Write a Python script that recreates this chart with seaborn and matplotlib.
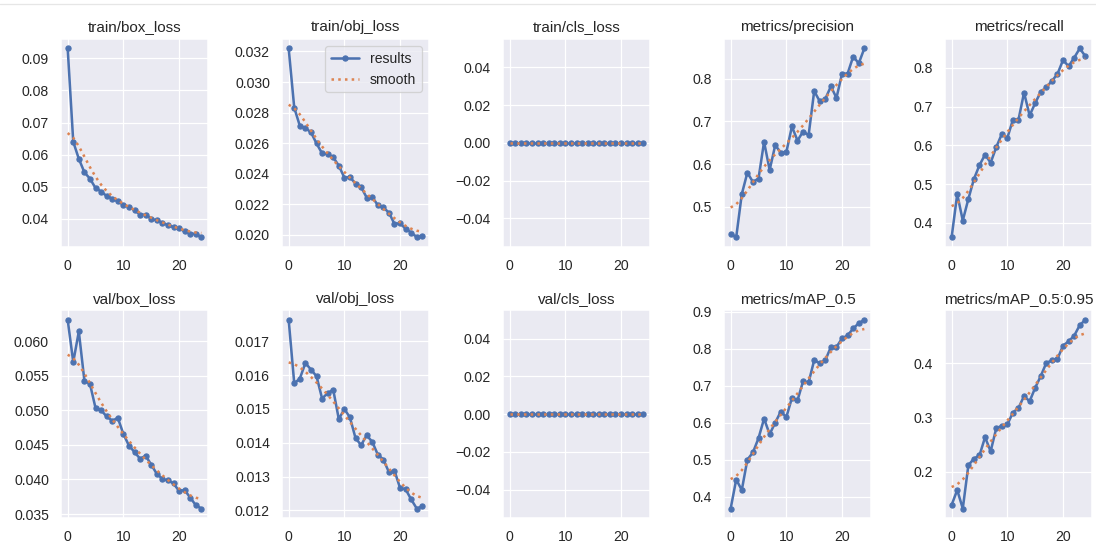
import numpy as np
import pandas as pd
import seaborn as sns
import matplotlib
matplotlib.use("Agg")
import matplotlib.pyplot as plt

epochs = list(range(25))

titles = ["train/box_loss", "train/obj_loss", "train/cls_loss", "metrics/precision", "metrics/recall",
          "val/box_loss", "val/obj_loss", "val/cls_loss", "metrics/mAP_0.5", "metrics/mAP_0.5:0.95"]

train_box_loss = [0.0931, 0.0640, 0.0587, 0.0545, 0.0525, 0.0496, 0.0485, 0.0471, 0.0463, 0.0454,
                  0.0444, 0.0437, 0.0427, 0.0413, 0.0413, 0.0400, 0.0395, 0.0388, 0.0380, 0.0374,
                  0.0370, 0.0361, 0.0354, 0.0353, 0.0343]
train_obj_loss = [0.0322, 0.02832, 0.02714, 0.02699, 0.02671, 0.02598, 0.02533, 0.02529, 0.02507, 0.02453,
                  0.02374, 0.02378, 0.02335, 0.02313, 0.02244, 0.02248, 0.02194, 0.02179, 0.02145, 0.02071,
                  0.02076, 0.02039, 0.02015, 0.01985, 0.01990]
train_cls_loss = [0.0] * 25
precision = [0.4364, 0.4287, 0.5295, 0.5798, 0.558, 0.566, 0.652, 0.586, 0.644, 0.627,
             0.628, 0.688, 0.655, 0.676, 0.668, 0.771, 0.747, 0.753, 0.782, 0.755,
             0.812, 0.812, 0.852, 0.836, 0.871]
recall = [0.3632, 0.474, 0.406, 0.4615, 0.513, 0.549, 0.576, 0.555, 0.595, 0.629,
          0.619, 0.666, 0.666, 0.736, 0.677, 0.709, 0.738, 0.750, 0.766, 0.784,
          0.820, 0.804, 0.826, 0.850, 0.830]
val_box_loss = [0.06305, 0.05696, 0.06138, 0.05428, 0.0538, 0.05033, 0.0500, 0.0491, 0.04848, 0.0489,
                0.04657, 0.0449, 0.04395, 0.0430, 0.04343, 0.04214, 0.04081, 0.0401, 0.03986, 0.03943,
                0.03834, 0.03848, 0.03738, 0.03629, 0.0358]
val_obj_loss = [0.01764, 0.01576, 0.0159, 0.01636, 0.01617, 0.01597, 0.01531, 0.01547, 0.01557, 0.0147,
                0.0150, 0.01475, 0.01414, 0.01393, 0.01422, 0.01403, 0.01365, 0.0135, 0.01313, 0.01317,
                0.01266, 0.01262, 0.01232, 0.01205, 0.01212]
val_cls_loss = [0.0] * 25
map_05 = [0.3679, 0.4464, 0.4179, 0.500, 0.5196, 0.558, 0.6107, 0.5688, 0.600, 0.630,
          0.615, 0.667, 0.660, 0.7116, 0.7089, 0.7688, 0.7607, 0.7688, 0.8045, 0.8045,
          0.8277, 0.8357, 0.8545, 0.8687, 0.8777]
map_05_095 = [0.1392, 0.1666, 0.1325, 0.2122, 0.2243, 0.2304, 0.2638, 0.2377, 0.2800, 0.2848,
              0.2872, 0.3091, 0.3176, 0.3395, 0.3298, 0.3547, 0.3763, 0.4006, 0.4049, 0.4079,
              0.4322, 0.4401, 0.4505, 0.4699, 0.4796]

series = [train_box_loss, train_obj_loss, train_cls_loss, precision, recall,
          val_box_loss, val_obj_loss, val_cls_loss, map_05, map_05_095]


def gaussian_smooth(y, sigma=3.0, truncate=4.0):
    y = np.asarray(y, dtype=float)
    r = int(truncate * sigma + 0.5)
    k = np.arange(-r, r + 1)
    w = np.exp(-0.5 * (k / sigma) ** 2)
    w /= w.sum()
    ypad = np.pad(y, r, mode="symmetric")
    return np.convolve(ypad, w, mode="valid")


sns.set_theme()
plt.rcParams["font.family"] = ["Liberation Sans", "DejaVu Sans"]

blue = "#4C72B0"
orange = "#DD8452"

DPI = 1096 / 12
fig, axes = plt.subplots(2, 5, figsize=(12, 544 / DPI), dpi=DPI)
fig.subplots_adjust(left=61 / 1096, right=1092 / 1096, top=1 - 39 / 544, bottom=1 - 518 / 544,
                    wspace=0.503, hspace=0.308)
axes = axes.ravel()

for ax, title, y in zip(axes, titles, series):
    df = pd.DataFrame({"epoch": epochs, "value": y, "smooth": gaussian_smooth(y)})
    sns.lineplot(data=df, x="epoch", y="value", ax=ax, color=blue, marker=".", markersize=8,
                 linewidth=2, markeredgecolor=blue, markeredgewidth=1, label="results")
    sns.lineplot(data=df, x="epoch", y="smooth", ax=ax, color=orange, linestyle=":",
                 linewidth=2, label="smooth")
    ax.set_title(title)
    ax.set_xlabel("")
    ax.set_ylabel("")
    if ax is not axes[1]:
        ax.get_legend().remove()

axes[1].legend(loc="upper right")

fig.add_artist(matplotlib.lines.Line2D([0, 1], [1 - 3.5 / 544, 1 - 3.5 / 544], color="#e6e6e6", lw=1,
                                        transform=fig.transFigure))

fig.savefig("out.png", dpi=DPI)
